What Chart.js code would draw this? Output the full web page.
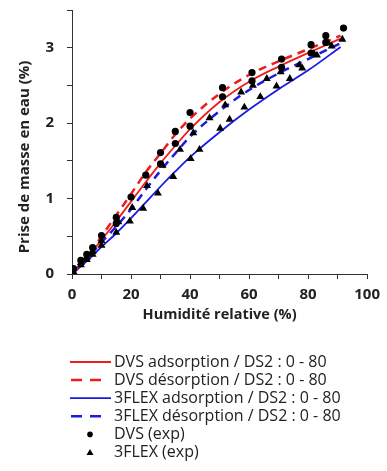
<!DOCTYPE html>
<html>
<head>
<meta charset="utf-8">
<script src="https://cdn.jsdelivr.net/npm/chart.js@4"></script>
<style>
  body { margin: 0; background: #fff; }
  #wrap { width: 387px; height: 471px; }
</style>
</head>
<body>
<div id="wrap"><canvas id="chart" width="387" height="471"></canvas></div>
<script>
// model curves (DS2 fit), x = humidité relative (%)
const modelX = [0, 5, 10, 15, 20, 25, 30, 35, 40, 50, 60, 70, 80, 91];
const dvsAds = [0, 0.21, 0.45, 0.70, 0.96, 1.22, 1.47, 1.70, 1.92, 2.28, 2.55, 2.75, 2.93, 3.12];
const dvsDes = [0, 0.23, 0.50, 0.78, 1.06, 1.35, 1.60, 1.85, 2.06, 2.39, 2.64, 2.82, 2.98, 3.16];
const flexAds = [0, 0.17, 0.36, 0.54, 0.74, 0.95, 1.16, 1.36, 1.55, 1.88, 2.18, 2.45, 2.70, 3.01];
const flexDes = [0, 0.20, 0.42, 0.63, 0.86, 1.12, 1.37, 1.60, 1.82, 2.16, 2.44, 2.66, 2.85, 3.06];

// experimental points
const dvsExpX = [0.5, 3, 5, 7, 10, 15, 15, 20, 25, 30, 30, 35, 35, 40, 40, 51, 51, 61, 61, 71, 71, 81, 81, 86, 86, 92];
const dvsExpY = [0.07, 0.18, 0.26, 0.35, 0.51, 0.75, 0.67, 1.02, 1.31, 1.61, 1.46, 1.89, 1.73, 2.14, 1.96, 2.47, 2.35, 2.67, 2.56, 2.85, 2.74, 3.04, 2.93, 3.16, 3.07, 3.26];
const flexExpX = [0.5, 3, 5, 7, 10, 15, 19.6, 24.1, 29.1, 34.3, 40.2, 43.2, 50.2, 53.4, 58.4, 63.8, 69.3, 73.8, 78, 83, 88,
                  3, 5, 7, 10, 15.7, 20.4, 25.4, 30.7, 36.6, 41.1, 46.6, 51.9, 57.3, 61.3, 66, 70.7, 77, 82, 86.8, 91.6];
const flexExpY = [0.03, 0.12, 0.19, 0.26, 0.38, 0.55, 0.70, 0.87, 1.07, 1.29, 1.53, 1.65, 1.93, 2.05, 2.21, 2.35, 2.49, 2.59, 2.73, 2.90, 3.02,
                  0.15, 0.22, 0.30, 0.44, 0.69, 0.88, 1.17, 1.44, 1.65, 1.87, 2.07, 2.24, 2.41, 2.50, 2.59, 2.68, 2.77, 2.92, 3.06, 3.11];

const labels = ["DVS adsorption / DS2 : 0 - 80", "DVS désorption / DS2 : 0 - 80",
  "3FLEX adsorption / DS2 : 0 - 80", "3FLEX désorption / DS2 : 0 - 80", "DVS (exp)", "3FLEX (exp)"];

const RED = "#ee1c1c";
const BLUE = "#1a1ae6";
const FONT = "'Open Sans', sans-serif";

function toXY(xs, ys) {
  return xs.map((x, i) => ({ x: x, y: ys[i] }));
}

function lineSet(label, ys, color, dashed) {
  return {
    label: label,
    data: toXY(modelX, ys),
    showLine: true,
    borderColor: color,
    borderWidth: dashed ? 2.5 : 1.8,
    borderDash: dashed ? [8, 6] : [],
    pointRadius: 0,
    cubicInterpolationMode: "monotone",
    order: 2
  };
}

const datasets = [
  lineSet(labels[0], dvsAds, RED, false),
  lineSet(labels[1], dvsDes, RED, true),
  lineSet(labels[2], flexAds, BLUE, false),
  lineSet(labels[3], flexDes, BLUE, true),
  {
    label: labels[4], data: toXY(dvsExpX, dvsExpY), pointStyle: "circle",
    pointRadius: 3.6, backgroundColor: "#000", borderColor: "#000", borderWidth: 0, order: 1
  },
  {
    label: labels[5], data: toXY(flexExpX, flexExpY), pointStyle: "triangle",
    pointRadius: 4.6, backgroundColor: "#000", borderColor: "#000", borderWidth: 0, order: 0
  }
];

// y title + legend drawn below the axes
const extras = {
  id: "extras",
  afterDraw(chart) {
    const ctx = chart.ctx;
    ctx.save();
    ctx.fillStyle = "#222";
    ctx.font = "bold 15px " + FONT;
    ctx.textAlign = "center";
    ctx.textBaseline = "middle";
    ctx.translate(25, 157);
    ctx.rotate(-Math.PI / 2);
    ctx.fillText("Prise de masse en eau (%)", 0, 0);
    ctx.restore();

    ctx.save();
    ctx.font = "16px " + FONT;
    ctx.textBaseline = "middle";
    ctx.textAlign = "left";
    let y = 362;
    chart.data.datasets.forEach((ds, i) => {
      ctx.save();
      if (i < 4) {
        ctx.strokeStyle = ds.borderColor;
        ctx.lineWidth = ds.borderWidth;
        if (ds.borderDash.length) {
          ctx.setLineDash([11, 8]);
          ctx.beginPath(); ctx.moveTo(71, y); ctx.lineTo(101, y); ctx.stroke();
        } else {
          ctx.beginPath(); ctx.moveTo(70, y); ctx.lineTo(111, y); ctx.stroke();
        }
      } else {
        ctx.fillStyle = "#000";
        ctx.beginPath();
        if (ds.pointStyle === "circle") {
          ctx.arc(90, y, 2.8, 0, Math.PI * 2);
        } else {
          ctx.moveTo(90, y - 3.5); ctx.lineTo(93.5, y + 2.5); ctx.lineTo(86.5, y + 2.5); ctx.closePath();
        }
        ctx.fill();
      }
      ctx.restore();
      ctx.fillStyle = "#222";
      ctx.fillText(ds.label, 114, y);
      y += 18.1;
    });
    ctx.restore();
  }
};

new Chart(document.getElementById("chart"), {
  type: "scatter",
  data: { datasets: datasets },
  plugins: [extras],
  options: {
    responsive: false,
    animation: false,
    layout: { padding: { left: 0, top: 10, right: 15, bottom: 147 } },
    plugins: { legend: { display: false }, tooltip: { enabled: false } },
    scales: {
      x: {
        type: "linear", min: 0, max: 100,
        ticks: {
          stepSize: 10, autoSkip: false, padding: 7, color: "#222", maxRotation: 0, minRotation: 0,
          font: { family: FONT, size: 15, weight: "bold" },
          callback: v => (v % 20 === 0 ? v : "")
        },
        grid: { drawOnChartArea: false, drawTicks: true, tickLength: 5, color: "#333" },
        border: { display: true, color: "#333", width: 1 },
        title: {
          display: true, text: "Humidité relative (%)", color: "#222",
          font: { family: FONT, size: 14.5, weight: "bold" }, padding: { top: 10, bottom: 0 }
        },
        afterFit: s => { s.height = 50; }
      },
      y: {
        type: "linear", min: 0, max: 3.5,
        ticks: {
          stepSize: 0.5, autoSkip: false, padding: 13, color: "#222",
          font: { family: FONT, size: 15, weight: "bold" },
          callback: v => (v % 1 === 0 ? v : "")
        },
        grid: { drawOnChartArea: false, drawTicks: true, tickLength: 5, color: "#333" },
        border: { display: true, color: "#333", width: 1 },
        afterFit: s => { s.width = 72; s.paddingTop = 0; s.paddingBottom = 0; }
      }
    }
  }
});
</script>
</body>
</html>
